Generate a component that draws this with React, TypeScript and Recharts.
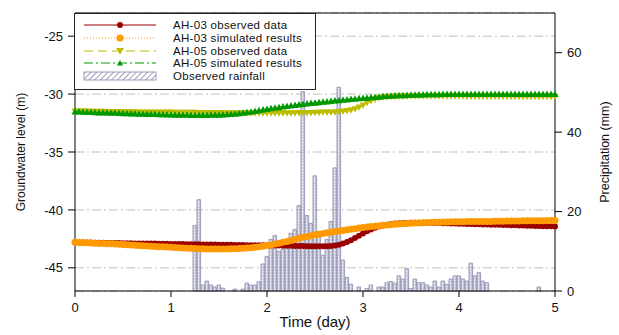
import React from "react";
import {
  ComposedChart,
  Line,
  Bar,
  XAxis,
  YAxis,
  CartesianGrid,
  Legend,
  ReferenceLine,
} from "recharts";

const timeTicks = [0, 1, 2, 3, 4, 5];
const levelTicks = [-45, -40, -35, -30, -25];
const rainTicks = [0, 20, 40, 60];

// groundwater level (m), one reading per hour, hour 0..120
const ah03Observed = [
  -42.8, -42.81, -42.81, -42.82, -42.82, -42.83, -42.83, -42.84, -42.85, -42.85, -42.86, -42.86,
  -42.87, -42.87, -42.88, -42.89, -42.89, -42.9, -42.9, -42.91, -42.91, -42.92, -42.93, -42.93,
  -42.94, -42.94, -42.95, -42.95, -42.96, -42.96, -42.97, -42.97, -42.98, -42.98, -42.99, -42.99,
  -43.0, -43.0, -43.01, -43.01, -43.02, -43.02, -43.03, -43.04, -43.04, -43.05, -43.05, -43.06,
  -43.06, -43.07, -43.08, -43.08, -43.09, -43.1, -43.1, -43.11, -43.12, -43.12, -43.13, -43.13,
  -43.14, -43.14, -43.14, -43.13, -43.11, -43.07, -43.0, -42.9, -42.77, -42.61, -42.43, -42.23,
  -42.03, -41.85, -41.69, -41.55, -41.44, -41.35, -41.28, -41.22, -41.18, -41.15, -41.13, -41.12,
  -41.11, -41.11, -41.11, -41.11, -41.12, -41.12, -41.13, -41.14, -41.15, -41.16, -41.17, -41.18,
  -41.19, -41.2, -41.21, -41.22, -41.23, -41.24, -41.25, -41.26, -41.27, -41.28, -41.29, -41.3,
  -41.31, -41.32, -41.33, -41.34, -41.35, -41.36, -41.37, -41.38, -41.39, -41.4, -41.41, -41.42,
  -41.43,
];
const ah03Simulated = [
  -42.8, -42.81, -42.83, -42.84, -42.86, -42.87, -42.89, -42.9, -42.92, -42.93, -42.95, -42.97,
  -42.99, -43.01, -43.03, -43.05, -43.07, -43.09, -43.11, -43.13, -43.15, -43.17, -43.19, -43.21,
  -43.22, -43.24, -43.26, -43.28, -43.3, -43.32, -43.34, -43.35, -43.36, -43.37, -43.38, -43.38,
  -43.38, -43.38, -43.37, -43.36, -43.35, -43.33, -43.31, -43.29, -43.26, -43.22, -43.18, -43.13,
  -43.08, -43.02, -42.95, -42.88, -42.8, -42.72, -42.63, -42.54, -42.45, -42.37, -42.29, -42.22,
  -42.15, -42.09, -42.03, -41.97, -41.92, -41.87, -41.82, -41.77, -41.72, -41.67, -41.62, -41.57,
  -41.52, -41.48, -41.44, -41.4, -41.36, -41.33, -41.3, -41.27, -41.24, -41.22, -41.19, -41.17,
  -41.15, -41.14, -41.12, -41.1, -41.09, -41.08, -41.07, -41.06, -41.05, -41.04, -41.03, -41.03,
  -41.02, -41.02, -41.01, -41.01, -41.0, -41.0, -41.0, -40.99, -40.99, -40.98, -40.98, -40.97,
  -40.96, -40.96, -40.95, -40.95, -40.94, -40.94, -40.94, -40.93, -40.93, -40.93, -40.92, -40.92,
  -40.92,
];
const ah05Observed = [
  -31.5, -31.5, -31.51, -31.51, -31.52, -31.52, -31.53, -31.53, -31.54, -31.54, -31.55, -31.55,
  -31.56, -31.56, -31.57, -31.57, -31.58, -31.58, -31.58, -31.59, -31.59, -31.6, -31.6, -31.6,
  -31.6, -31.61, -31.61, -31.61, -31.62, -31.62, -31.62, -31.63, -31.63, -31.63, -31.64, -31.64,
  -31.64, -31.64, -31.65, -31.65, -31.65, -31.65, -31.65, -31.65, -31.66, -31.66, -31.66, -31.66,
  -31.66, -31.66, -31.66, -31.66, -31.66, -31.65, -31.65, -31.65, -31.64, -31.64, -31.63, -31.63,
  -31.62, -31.61, -31.6, -31.59, -31.58, -31.56, -31.54, -31.5, -31.46, -31.4, -31.3, -31.16,
  -30.98, -30.78, -30.6, -30.46, -30.36, -30.29, -30.25, -30.22, -30.21, -30.2, -30.2, -30.2,
  -30.19, -30.19, -30.19, -30.19, -30.19, -30.19, -30.19, -30.19, -30.19, -30.19, -30.19, -30.19,
  -30.19, -30.19, -30.2, -30.2, -30.2, -30.2, -30.2, -30.2, -30.21, -30.21, -30.21, -30.21,
  -30.21, -30.22, -30.22, -30.22, -30.22, -30.23, -30.23, -30.23, -30.23, -30.24, -30.24, -30.24,
  -30.25,
];
const ah05Simulated = [
  -31.5, -31.51, -31.53, -31.54, -31.55, -31.57, -31.58, -31.59, -31.6, -31.61, -31.62, -31.63,
  -31.65, -31.66, -31.67, -31.68, -31.69, -31.7, -31.71, -31.72, -31.73, -31.74, -31.75, -31.76,
  -31.77, -31.78, -31.78, -31.79, -31.79, -31.8, -31.8, -31.8, -31.8, -31.8, -31.79, -31.79,
  -31.78, -31.77, -31.75, -31.73, -31.7, -31.66, -31.62, -31.57, -31.52, -31.46, -31.4, -31.34,
  -31.28, -31.23, -31.18, -31.13, -31.08, -31.03, -30.98, -30.94, -30.9, -30.86, -30.82, -30.78,
  -30.74, -30.7, -30.66, -30.63, -30.59, -30.56, -30.53, -30.49, -30.46, -30.43, -30.4, -30.37,
  -30.34, -30.31, -30.28, -30.25, -30.22, -30.19, -30.17, -30.15, -30.13, -30.11, -30.09, -30.08,
  -30.06, -30.05, -30.04, -30.03, -30.02, -30.02, -30.01, -30.01, -30.0, -30.0, -30.0, -30.0,
  -30.0, -30.0, -30.0, -30.0, -29.99, -29.99, -30.0, -30.0, -30.0, -30.0, -29.99, -29.99,
  -29.99, -30.0, -30.0, -30.0, -30.0, -29.99, -29.99, -29.99, -30.0, -30.0, -30.0, -30.0,
  -30.0,
];

// hourly rainfall (mm), starting at hour 30; 0 = no rain
const rainStartHour = 30;
const rainfall = [
  16.5, 23, 1.5, 2.5, 1.5, 1, 1.5, 0.7, 0, 0, 0.5, 0, 0.5, 2, 1.5, 1.5, 2.3, 6.8,
  8.7, 13, 14, 10, 10.5, 11, 14.5, 15.5, 21.5, 50.2, 19, 17, 29, 15, 9, 13, 17.5, 31,
  51.3, 7.8, 3.4, 1.7, 0, 1, 0, 0.6, 1.5, 0, 1, 1, 2.1, 2.4, 2, 3.8, 3, 5.6,
  0.6, 3, 2.1, 2.1, 1.5, 1, 2.5, 1, 2.5, 1.7, 3, 3.8, 3.8, 3, 2.5, 7, 3.8, 4.6,
  2.5, 2.1, 0, 0, 0, 0, 0, 0, 0, 0, 0, 0, 0, 0, 1,
];

const data = ah03Observed.map((v, h) => {
  const r = rainfall[h - rainStartHour];
  return {
    t: h / 24,
    ah03Obs: v,
    ah03Sim: ah03Simulated[h],
    ah05Obs: ah05Observed[h],
    ah05Sim: ah05Simulated[h],
    rain: r ? r : null,
  };
});

const RED = "#990000";
const ORANGE = "#ff9900";
const OLIVE = "#bcbc00";
const GREEN = "#009900";
const RAIN = "#9c9cbc";
const FONT = "'Liberation Sans', Arial, sans-serif";

const circleDot = (color: string, r: number) => (p: any) =>
  p.cy == null ? (
    <g key={p.index} />
  ) : (
    <circle key={p.index} cx={p.cx} cy={p.cy} r={r} fill={color} />
  );

const triDot = (color: string, up: boolean) => (p: any) => {
  if (p.cy == null) return <g key={p.index} />;
  const { cx, cy } = p;
  const d = up
    ? `M${cx - 3.5},${cy + 3} L${cx + 3.5},${cy + 3} L${cx},${cy - 3.5} Z`
    : `M${cx - 3.5},${cy - 3} L${cx + 3.5},${cy - 3} L${cx},${cy + 3.5} Z`;
  return <path key={p.index} d={d} fill={color} />;
};

const legendRows = [
  { label: "AH-03 observed data", color: RED, dash: undefined, kind: "circle" },
  { label: "AH-03 simulated results", color: ORANGE, dash: "1 2", kind: "circle" },
  { label: "AH-05 observed data", color: OLIVE, dash: "9 5", kind: "down" },
  { label: "AH-05 simulated results", color: GREEN, dash: "9 3 2 3", kind: "up" },
];

const legendText = {
  fontSize: 11.5,
  fontFamily: FONT,
  fill: "#111",
  letterSpacing: 0.3,
};

function LegendBox() {
  const rowsY = [11, 24, 37, 49];
  return (
    <div
      style={{
        width: 242,
        height: 77,
        border: "1px solid #222",
        background: "#fff",
        boxSizing: "border-box",
      }}
    >
      <svg width={240} height={75} style={{ display: "block" }}>
        <defs>
          <pattern id="legendHatch" patternUnits="userSpaceOnUse" width="4" height="4" patternTransform="rotate(45)">
            <rect width="4" height="4" fill="#fff" />
            <line x1="0" y1="0" x2="0" y2="4" stroke={RAIN} strokeWidth="2" />
          </pattern>
        </defs>
        {legendRows.map((row, i) => {
          const y = rowsY[i];
          return (
            <g key={row.label}>
              <line x1={9} x2={81} y1={y} y2={y} stroke={row.color} strokeWidth={1} strokeDasharray={row.dash} />
              {row.kind === "circle" ? (
                <circle cx={45} cy={y} r={i === 1 ? 3.5 : 3} fill={row.color} />
              ) : row.kind === "down" ? (
                <path d={`M${41},${y - 3} L${49},${y - 3} L${45},${y + 3.5} Z`} fill={row.color} />
              ) : (
                <path d={`M${42},${y + 2.5} L${48},${y + 2.5} L${45},${y - 3} Z`} fill={row.color} />
              )}
              <text x={98} y={y + 4} style={legendText}>
                {row.label}
              </text>
            </g>
          );
        })}
        <rect x={9} y={58} width={72} height={8} fill="url(#legendHatch)" stroke={RAIN} strokeWidth={1} />
        <text x={98} y={66} style={legendText}>
          Observed rainfall
        </text>
      </svg>
    </div>
  );
}

const tickStyle = { fontSize: 13, fontFamily: FONT, fill: "#111" };

export default function App() {
  return (
    <div style={{ position: "absolute", left: 0, top: 0, background: "#fff" }}>
      <ComposedChart
        width={619}
        height={335}
        data={data}
        margin={{ top: 13, right: 0, bottom: 0, left: 0 }}
      >
        <defs>
          <pattern id="rainFill" patternUnits="userSpaceOnUse" width="4" height="3">
            <rect width="4" height="3" fill={RAIN} fillOpacity={0.6} />
            <rect x="2" y="0.8" width="1" height="1.4" fill="#fff" />
          </pattern>
        </defs>
        <CartesianGrid
          yAxisId="left"
          vertical={false}
          stroke="#c2c2b4"
          strokeDasharray="9 3 2 3"
        />
        <XAxis
          dataKey="t"
          type="number"
          domain={[0, 5]}
          ticks={timeTicks}
          height={44}
          stroke="#000"
          tickSize={6}
          tickMargin={6}
          tick={tickStyle}
          label={{
            value: "Time (day)",
            position: "insideBottom",
            offset: 8,
            style: { fontSize: 15, fontFamily: FONT, fill: "#111", textAnchor: "middle" },
          }}
        />
        <YAxis
          yAxisId="left"
          domain={[-47, -23]}
          ticks={levelTicks}
          width={75}
          stroke="#000"
          tickSize={7}
          tickMargin={5}
          tick={tickStyle}
          label={{
            value: "Groundwater level (m)",
            angle: -90,
            position: "insideLeft",
            offset: 21,
            style: { fontSize: 12, fontFamily: FONT, fill: "#111", textAnchor: "middle" },
          }}
        />
        <YAxis
          yAxisId="right"
          orientation="right"
          domain={[0, 70]}
          ticks={rainTicks}
          width={64}
          stroke="#000"
          tickSize={7}
          tickMargin={5}
          tick={tickStyle}
          label={{
            value: "Precipitation (mm)",
            angle: -90,
            position: "insideRight",
            offset: 14,
            style: { fontSize: 12.5, fontFamily: FONT, fill: "#111", textAnchor: "middle" },
          }}
        />
        <ReferenceLine yAxisId="left" y={-23} stroke="#000" strokeWidth={1} />
        <Line
          yAxisId="left"
          dataKey="ah03Obs"
          stroke={RED}
          strokeWidth={1}
          dot={circleDot(RED, 3)}
          activeDot={false}
          isAnimationActive={false}
        />
        <Line
          yAxisId="left"
          dataKey="ah03Sim"
          stroke={ORANGE}
          strokeWidth={1}
          strokeDasharray="1 2"
          dot={circleDot(ORANGE, 3.5)}
          activeDot={false}
          isAnimationActive={false}
        />
        <Line
          yAxisId="left"
          dataKey="ah05Obs"
          stroke={OLIVE}
          strokeWidth={1}
          strokeDasharray="9 5"
          dot={triDot(OLIVE, false)}
          activeDot={false}
          isAnimationActive={false}
        />
        <Line
          yAxisId="left"
          dataKey="ah05Sim"
          stroke={GREEN}
          strokeWidth={1}
          strokeDasharray="9 3 2 3"
          dot={triDot(GREEN, true)}
          activeDot={false}
          isAnimationActive={false}
        />
        <Bar
          yAxisId="right"
          dataKey="rain"
          barSize={4}
          fill="url(#rainFill)"
          stroke={RAIN}
          strokeWidth={1}
          isAnimationActive={false}
        />
        <Legend
          layout="vertical"
          align="center"
          verticalAlign="middle"
          wrapperStyle={{ left: 74, top: 13, width: 242, height: 77 }}
          content={() => <LegendBox />}
        />
      </ComposedChart>
    </div>
  );
}
